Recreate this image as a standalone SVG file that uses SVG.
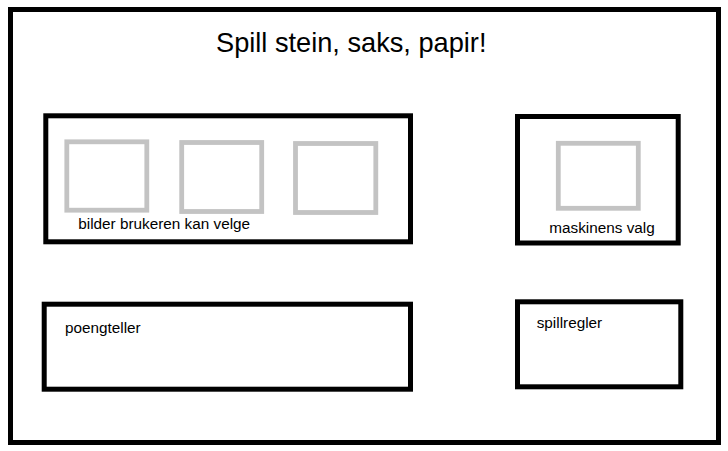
<svg xmlns="http://www.w3.org/2000/svg" width="728" height="451" viewBox="0 0 728 451">
<style>
.frame{fill:#fff;stroke:#000;stroke-width:5}
.box{fill:#fff;stroke:#000;stroke-width:5}
.img{fill:#fff;stroke:#c3c3c3;stroke-width:4.8}
.lbl{font-family:"Liberation Sans",Arial,sans-serif;font-size:15.3px;fill:#000}
.title{font-family:"Liberation Sans",Arial,sans-serif;font-size:27.2px;fill:#000}
</style>
<rect width="728" height="451" fill="#fff"/>
<g id="page">
<rect class="frame" x="10.5" y="9.5" width="708" height="433"/>
<text class="title" x="216" y="51.7">Spill stein, saks, papir!</text>
</g>
<g id="bilder">
<rect class="box" x="45.8" y="115.8" width="364.7" height="126"/>
<rect class="img" x="66.8" y="141.8" width="80" height="68.4"/>
<rect class="img" x="181.7" y="142.5" width="80" height="69"/>
<rect class="img" x="295.5" y="143.5" width="80.3" height="69"/>
<text class="lbl" x="78.3" y="229.3">bilder brukeren kan velge</text>
</g>
<g id="maskinens">
<rect class="box" x="517.5" y="116.5" width="160.7" height="126.5"/>
<rect class="img" x="558.3" y="143.3" width="80" height="65"/>
<text class="lbl" x="549.3" y="233.3">maskinens valg</text>
</g>
<g id="poengteller">
<rect class="box" x="44.2" y="304.2" width="366.3" height="85"/>
<text class="lbl" x="65" y="333.3">poengteller</text>
</g>
<g id="spillregler">
<rect class="box" x="517.5" y="301.8" width="163.3" height="85"/>
<text class="lbl" x="536.7" y="328.3">spillregler</text>
</g>
<g id="connectors"></g>
</svg>
